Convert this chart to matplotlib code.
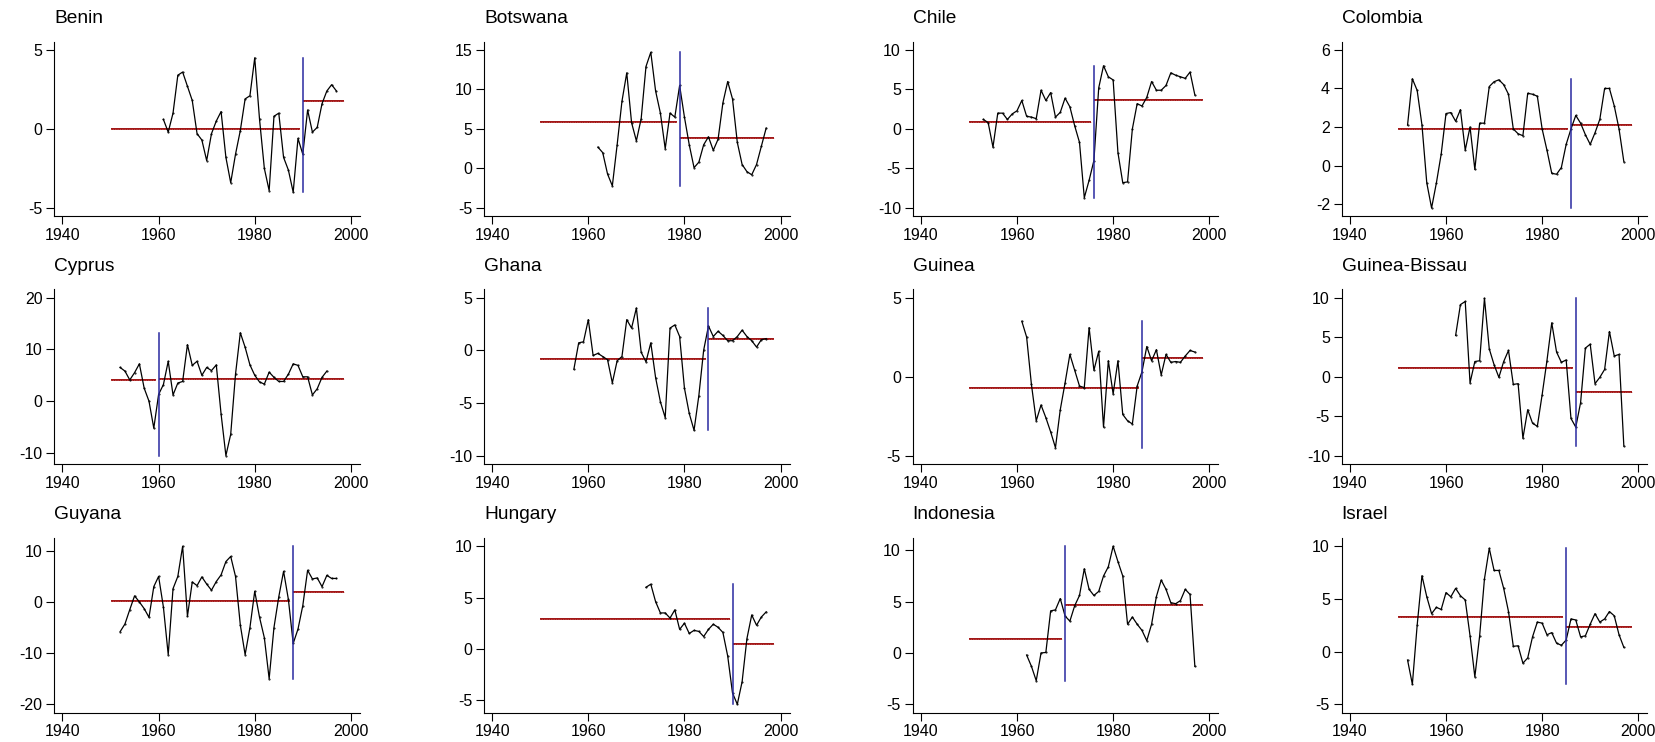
import numpy as np
import matplotlib.pyplot as plt

plt.rcParams["font.family"] = ["Liberation Sans", "DejaVu Sans"]
plt.rcParams["axes.unicode_minus"] = False

# ---------------------------------------------------------------------------
# Data (annual values, first year given separately)
# ---------------------------------------------------------------------------
COUNTRIES = ["Benin", "Botswana", "Chile", "Colombia",
             "Cyprus", "Ghana", "Guinea", "Guinea-Bissau",
             "Guyana", "Hungary", "Indonesia", "Israel"]

START_YEARS = [1961, 1962, 1953, 1952,
               1952, 1957, 1961, 1962,
               1952, 1972, 1962, 1952]

BREAK_YEARS = [1990, 1979, 1976, 1986,
               1960, 1985, 1986, 1987,
               1988, 1990, 1970, 1985]

MEAN_BEFORE = [0.0, 5.9, 0.9, 1.9,
               4.0, -0.85, -0.7, 1.1,
               0.1, 2.9, 1.4, 3.3]

MEAN_AFTER = [1.75, 3.9, 3.7, 2.1,
              4.3, 1.1, 1.2, -1.9,
              1.9, 0.5, 4.7, 2.3]

YTICKS = [[-5, 0, 5], [-5, 0, 5, 10, 15], [-10, -5, 0, 5, 10], [-2, 0, 2, 4, 6],
          [-10, 0, 10, 20], [-10, -5, 0, 5], [-5, 0, 5], [-10, -5, 0, 5, 10],
          [-20, -10, 0, 10], [-5, 0, 5, 10], [-5, 0, 5, 10], [-5, 0, 5, 10]]

XTICKS = [1940, 1960, 1980, 2000]

benin = [0.6, -0.2, 1.0, 3.4, 3.6, 2.7, 1.8, -0.3, -0.7, -2.0,
         -0.3, 0.5, 1.1, -1.8, -3.4, -1.6, -0.1, 1.9, 2.1, 4.5,
         0.6, -2.5, -3.9, 0.8, 1.0, -1.8, -2.6, -4.0, -0.6, -1.6,
         1.2, -0.2, 0.1, 1.6, 2.4, 2.8, 2.4]
botswana = [2.7, 2.0, -0.7, -2.2, 3.0, 8.5, 12.1, 5.8, 3.5, 6.3,
            12.9, 14.7, 9.8, 7.0, 2.5, 7.0, 6.5, 10.5, 6.5, 3.0,
            0.1, 0.8, 3.0, 4.0, 2.3, 3.7, 8.3, 11.0, 8.8, 3.3,
            0.5, -0.4, -0.8, 0.5, 2.8, 5.1]
chile = [1.2, 0.8, -2.3, 2.0, 2.0, 1.2, 1.9, 2.3, 3.6, 1.6,
         1.5, 1.3, 4.9, 3.6, 4.6, 1.5, 2.1, 3.9, 2.8, 0.4,
         -1.7, -8.7, -6.5, -4.0, 5.2, 8.0, 6.6, 6.2, -3.0, -6.8,
         -6.7, 0.0, 3.2, 2.9, 4.0, 6.0, 4.9, 4.9, 5.5, 7.1,
         6.8, 6.6, 6.4, 7.2, 4.3]
colombia = [2.1, 4.5, 3.9, 2.1, -0.9, -2.2, -0.9, 0.6, 2.7, 2.75,
            2.3, 2.9, 0.8, 2.0, -0.2, 2.2, 2.2, 4.1, 4.35, 4.45,
            4.2, 3.7, 1.9, 1.65, 1.55, 3.75, 3.7, 3.6, 1.9, 0.8,
            -0.4, -0.45, -0.1, 1.1, 1.9, 2.6, 2.2, 1.6, 1.1, 1.7,
            2.4, 4.0, 4.0, 3.1, 1.9, 0.2]
cyprus = [6.5, 5.8, 4.1, 5.5, 7.2, 2.5, 0.0, -5.2, 1.3, 3.2,
          7.7, 1.2, 3.5, 3.8, 10.9, 6.9, 7.7, 5.0, 6.5, 5.9,
          7.0, -2.5, -10.5, -6.4, 5.2, 13.2, 10.4, 7.0, 5.0, 3.7,
          3.3, 5.6, 4.6, 3.8, 3.8, 5.2, 7.2, 6.9, 4.7, 4.7,
          1.2, 2.4, 4.6, 5.8]
ghana = [-1.8, 0.7, 0.8, 2.9, -0.5, -0.3, -0.6, -0.9, -3.1, -1.0,
         -0.6, 2.9, 2.1, 4.0, -0.2, -1.1, 0.7, -2.6, -4.9, -6.4,
         2.1, 2.4, 1.3, -3.6, -6.0, -7.6, -4.3, 0.0, 2.3, 1.3,
         1.8, 1.4, 0.9, 0.9, 1.3, 1.9, 1.3, 0.9, 0.3, 1.0,
         1.1]
guinea = [3.5, 2.5, -0.5, -2.8, -1.8, -2.6, -3.5, -4.5, -2.1, -0.4,
          1.4, 0.4, -0.6, -0.7, 3.1, 0.4, 1.6, -3.2, 1.0, -1.1,
          1.0, -2.4, -2.8, -3.0, -0.6, 0.3, 1.9, 1.0, 1.7, 0.1,
          1.4, 0.9, 0.95, 0.9, 1.3, 1.65, 1.55]
guinea_bissau = [5.2, 9.1, 9.5, -0.8, 1.9, 2.0, 9.9, 3.5, 1.5, -0.1,
                 1.9, 3.3, -1.0, -0.9, -7.8, -4.2, -5.9, -6.3, -2.3, 2.0,
                 6.8, 3.1, 1.8, 2.1, -5.3, -6.4, -3.3, 3.6, 4.1, -0.9,
                 -0.1, 0.9, 5.7, 2.6, 2.8, -8.8]
guyana = [-5.8, -4.3, -1.5, 1.2, 0.0, -1.3, -3.0, 3.0, 5.0, -1.0,
          -10.3, 2.6, 5.0, 10.9, -2.8, 3.9, 3.2, 4.9, 3.5, 2.3,
          4.0, 5.3, 7.9, 8.9, 5.0, -4.5, -10.3, -5.0, 2.1, -3.0,
          -7.0, -15.0, -5.0, 1.0, 6.0, 0.5, -8.1, -5.3, -0.7, 6.2,
          4.5, 4.7, 3.0, 5.2, 4.6, 4.6]
hungary = [6.0, 6.3, 4.6, 3.5, 3.5, 3.0, 3.8, 1.9, 2.5, 1.5,
           1.8, 1.7, 1.2, 1.9, 2.4, 2.1, 1.6, -0.7, -4.3, -5.4,
           -3.2, 1.0, 3.3, 2.3, 3.1, 3.6]
indonesia = [-0.2, -1.3, -2.7, 0.0, 0.05, 4.1, 4.2, 5.3, 3.6, 3.1,
             4.6, 5.6, 8.2, 6.2, 5.6, 6.0, 7.5, 8.4, 10.4, 8.9,
             7.5, 2.8, 3.5, 2.8, 2.2, 1.2, 2.8, 5.5, 7.1, 6.2,
             4.9, 4.8, 5.1, 6.2, 5.7, -1.3]
israel = [-0.8, -3.1, 2.5, 7.2, 5.2, 3.6, 4.2, 4.0, 5.6, 5.2,
          6.0, 5.3, 4.9, 1.5, -2.4, 1.5, 6.9, 9.8, 7.7, 7.7,
          6.0, 3.8, 0.5, 0.55, -1.1, -0.6, 1.4, 2.8, 2.7, 1.6,
          1.8, 0.8, 0.6, 1.1, 3.1, 3.0, 1.4, 1.5, 2.6, 3.6,
          2.8, 3.1, 3.8, 3.4, 1.6, 0.4]

SERIES = [benin, botswana, chile, colombia,
          cyprus, ghana, guinea, guinea_bissau,
          guyana, hungary, indonesia, israel]

MEAN_START = 1950      # first regime mean drawn from here
MEAN_END = 1998.6      # second regime mean drawn to here

# ---------------------------------------------------------------------------
# Layout (pixel positions measured on the reference)
# ---------------------------------------------------------------------------
W, H = 1655, 742
LEFTS = [54.3, 484.0, 912.7, 1341.7]
TOPS = [41.7, 289.3, 538.0]
AX_W, AX_H = 305.7, 174.5

fig = plt.figure(figsize=(W / 100, H / 100), dpi=100)

for i, name in enumerate(COUNTRIES):
    row, col = divmod(i, 4)
    ax = fig.add_axes([LEFTS[col] / W, 1 - (TOPS[row] + AX_H) / H,
                       AX_W / W, AX_H / H])

    vals = np.array(SERIES[i])
    years = np.arange(START_YEARS[i], START_YEARS[i] + len(vals))
    brk = BREAK_YEARS[i]

    # regime means: solid dark red with a faint dotted overlay
    for x0, x1, m in [(MEAN_START, brk - 0.6, MEAN_BEFORE[i]),
                      (brk, MEAN_END, MEAN_AFTER[i])]:
        ax.plot([x0, x1], [m, m], color="#990000", lw=1.3,
                solid_capstyle="butt", zorder=2)
        ax.plot([x0, x1], [m, m], color="#d07070", lw=0.5,
                ls=(0, (1, 1.5)), zorder=2.1)

    ax.plot(years, vals, color="black", lw=0.9, marker=".", ms=1.0, zorder=3)

    # break date spans the range of the series
    ax.plot([brk, brk], [vals.min(), vals.max()], color="#2a2aa0", lw=1.1,
            zorder=4)

    ticks = YTICKS[i]
    lo = min(ticks[0], vals.min())
    hi = max(ticks[-1], vals.max())
    pad = 0.052 * (hi - lo)
    ax.set_ylim(lo - pad, hi + pad)
    ax.set_yticks(ticks)
    ax.set_xlim(1938.3, 2001.9)
    ax.set_xticks(XTICKS)

    for side in ["top", "right"]:
        ax.spines[side].set_visible(False)
    for side in ["left", "bottom"]:
        ax.spines[side].set_linewidth(0.8)
    ax.tick_params(direction="out", length=5.5, width=0.8, labelsize=11.5,
                   pad=3)
    ax.set_title(name, loc="left", fontsize=13.8, pad=13.5)

fig.savefig("out.png", dpi=100)
